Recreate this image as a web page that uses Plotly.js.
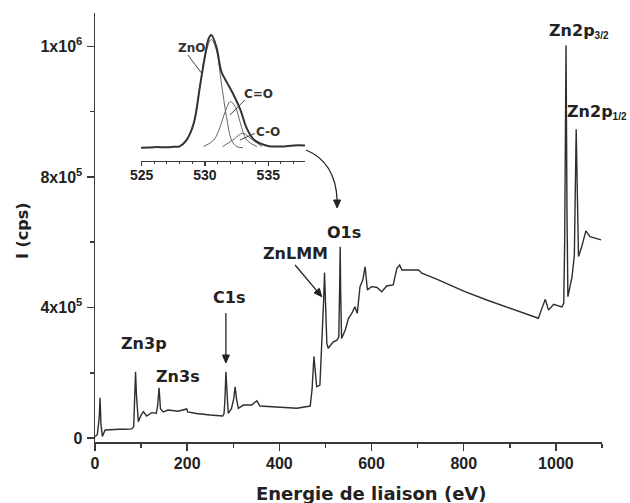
<!DOCTYPE html>
<html>
<head>
<meta charset="utf-8">
<script src="https://cdn.plot.ly/plotly-3.0.1.min.js"></script>
<style>html,body{margin:0;padding:0;background:#fff;}#chart{width:630px;height:503px;}</style>
</head>
<body>
<div id="chart"></div>
<script>
// Survey spectrum: binding energy (eV) and intensity (cps)
const energy = [0, 5, 9, 11, 13, 16, 22, 35, 50, 52, 65, 80, 84, 86, 88, 90, 94, 100, 105, 112, 123, 133, 136, 139, 142, 148, 159, 180, 199, 201, 220, 250, 268, 277, 280, 282, 284, 286, 289, 296, 301, 304, 307, 311, 322, 340, 351, 358, 394, 438, 467, 471, 475, 478, 481, 488, 492, 496, 498, 500, 503, 506, 517, 525, 529, 531, 532, 533, 535, 543, 550, 557, 564, 569, 575, 581, 586, 591, 600, 611, 622, 633, 647, 655, 661, 666, 677, 691, 702, 709, 740, 778, 800, 850, 900, 923, 962, 969, 977, 984, 995, 1013, 1017, 1019, 1022, 1024, 1026, 1035, 1040, 1044, 1047, 1049, 1056, 1065, 1074, 1085, 1098];
const intensity = [4000, 10000, 60000, 123000, 40000, 5000, 24500, 26000, 29000, 27000, 27000, 28000, 35000, 110000, 203000, 130000, 50000, 70000, 80600, 67400, 77600, 75700, 100000, 154000, 90000, 80000, 85800, 82000, 89000, 80000, 75000, 70500, 69000, 67400, 75000, 120000, 203000, 140000, 75700, 90000, 120000, 157000, 120000, 91000, 101000, 101000, 114000, 98000, 94000, 91000, 98000, 150000, 250000, 200000, 157000, 162000, 280000, 420000, 507000, 420000, 290000, 275000, 295000, 300000, 310000, 480000, 586000, 450000, 305000, 331000, 367000, 382000, 402000, 382000, 464000, 484000, 525000, 454000, 464000, 462000, 448000, 466000, 469000, 520000, 530000, 515000, 515000, 513000, 515000, 505000, 488000, 464000, 450000, 423000, 398000, 387000, 367000, 395000, 425000, 392000, 410000, 402000, 413000, 600000, 1204000, 700000, 433000, 494000, 560000, 946000, 650000, 556000, 586000, 635000, 617000, 612000, 607000];

// O1s inset (normalised intensity)
const insetEnvX = [524.95, 526, 527, 527.5, 528, 528.5, 529.1, 529.6, 530.0, 530.3, 530.5, 530.9, 531.3, 531.7, 532.2, 532.8, 533.3, 533.9, 534.9, 536, 537, 537.9];
const insetEnvY = [0, 0.005, 0.005, 0.008, 0.012, 0.06, 0.21, 0.54, 0.81, 0.97, 1.0, 0.896, 0.674, 0.586, 0.483, 0.335, 0.172, 0.068, 0.018, 0.01, 0.02, 0.02];
const znoX = [528, 528.5, 529.1, 529.6, 530.0, 530.5, 530.9, 531.3, 531.7, 532.1, 532.5, 533];
const znoY = [0.01, 0.06, 0.21, 0.54, 0.81, 0.96, 0.867, 0.571, 0.275, 0.068, 0.01, 0];
const coX = [529.9, 530.7, 531.2, 531.6, 532.0, 532.4, 532.8, 533.3, 534.1];
const coY = [0.01, 0.068, 0.186, 0.32, 0.408, 0.364, 0.217, 0.068, 0.01];
const c_oX = [531.4, 532.2, 533.0, 533.6, 534.5];
const c_oY = [0.01, 0.068, 0.128, 0.083, 0.01];

const yTickVals = [0, 400000, 800000, 1200000];
const yTickText = ['0', '4x10<sup>5</sup>', '8x10<sup>5</sup>', '1x10<sup>6</sup>'];
const xTickVals = [0, 200, 400, 600, 800, 1000];
const insetTickVals = [525, 530, 535];

const axisCol = '#3a3a3a';
const lineCol = '#2e2e2e';
const fam = 'Liberation Sans, Arial, sans-serif';
const famWide = 'DejaVu Sans, Verdana, sans-serif';
const bold16 = {family: fam, size: 16, color: '#222', weight: 'bold'};
const bold14 = {family: fam, size: 14, color: '#222', weight: 'bold'};
const lab16 = {family: famWide, size: 16, color: '#222', weight: 'bold'};
const lab12 = {family: famWide, size: 12, color: '#333', weight: 'bold'};
const titleFont = {family: famWide, size: 18, color: '#222', weight: 'bold'};
const yTitleFont = {family: famWide, size: 16, color: '#222', weight: 'bold'};
const subStyle = 'font-family:Liberation Sans, Arial, sans-serif;font-size:10px';

const traces = [
  {x: energy, y: intensity, type: 'scatter', mode: 'lines', line: {color: lineCol, width: 1.4}, xaxis: 'x', yaxis: 'y', hoverinfo: 'skip'},
  {x: znoX, y: znoY, type: 'scatter', mode: 'lines', line: {color: '#666', width: 1, shape: 'spline'}, xaxis: 'x2', yaxis: 'y2'},
  {x: coX, y: coY, type: 'scatter', mode: 'lines', line: {color: '#666', width: 1, shape: 'spline'}, xaxis: 'x2', yaxis: 'y2'},
  {x: c_oX, y: c_oY, type: 'scatter', mode: 'lines', line: {color: '#666', width: 1, shape: 'spline'}, xaxis: 'x2', yaxis: 'y2'},
  {x: insetEnvX, y: insetEnvY, type: 'scatter', mode: 'lines', line: {color: '#333', width: 2, shape: 'spline'}, xaxis: 'x2', yaxis: 'y2'}
];

function ann(text, x, y, font, xanchor) {
  return {text: text, x: x, y: y, xref: 'x', yref: 'y', showarrow: false, font: font, xanchor: xanchor || 'center'};
}

const annotations = [
  ann('Zn3p', 106, 291000, lab16),
  ann('Zn3s', 180, 190000, lab16),
  ann('C1s', 291, 432000, lab16),
  ann('ZnLMM', 436, 567000, lab16),
  ann('O1s', 540, 631000, lab16),
  ann('Zn2p<sub><span style="' + subStyle + '">3/2</span></sub>', 981, 1247000, lab16, 'left'),
  {text: 'Zn2p<sub><span style="' + subStyle + '">1/2</span></sub>', x: 1.0533, y: 999000, xref: 'paper', yref: 'y', showarrow: false, font: lab16, xanchor: 'right'},
  // inset labels
  {text: 'ZnO', x: 528.9, y: 0.885, xref: 'x2', yref: 'y2', showarrow: false, font: lab12},
  {text: 'C=O', x: 534.25, y: 0.476, xref: 'x2', yref: 'y2', showarrow: false, font: lab12},
  {text: 'C-O', x: 534.97, y: 0.139, xref: 'x2', yref: 'y2', showarrow: false, font: lab12},
  // axis titles
  {text: 'Energie de liaison (eV)', x: 0.546, y: -0.119, xref: 'paper', yref: 'paper', showarrow: false, xanchor: 'center', yanchor: 'middle', font: titleFont},
  {text: 'I (cps)', x: -0.144, y: 0.494, xref: 'paper', yref: 'paper', showarrow: false, textangle: -90, xanchor: 'center', yanchor: 'middle', font: yTitleFont}
];

const arrowLine = {color: '#222', width: 1.3};
const shapes = [
  // inset leader lines
  {type: 'line', xref: 'x2', yref: 'y2', x0: 528.65, y0: 0.823, x1: 529.74, y1: 0.660, line: {color: '#444', width: 1}},
  {type: 'line', xref: 'x2', yref: 'y2', x0: 533.15, y0: 0.423, x1: 531.97, y1: 0.29, line: {color: '#444', width: 1}},
  {type: 'line', xref: 'x2', yref: 'y2', x0: 533.94, y0: 0.128, x1: 532.76, y1: 0.068, line: {color: '#444', width: 1}},
  // curved arrow from inset to O1s
  {type: 'path', xref: 'x', yref: 'y', path: 'M 458,882700 Q 522,845000 525.3,729500', line: arrowLine},
  {type: 'path', xref: 'x', yref: 'y', path: 'M 517.7,729500 L 525.3,705000 L 532.9,729500 Z', fillcolor: '#222', line: {color: '#222', width: 1}},
  // C1s arrow
  {type: 'line', xref: 'x', yref: 'y', x0: 284, y0: 383000, x1: 284, y1: 254000, line: arrowLine},
  {type: 'path', xref: 'x', yref: 'y', path: 'M 276.4,254400 L 284,229900 L 291.6,254400 Z', fillcolor: '#222', line: {color: '#222', width: 1}},
  // ZnLMM arrow
  {type: 'line', xref: 'x', yref: 'y', x0: 434.1, y0: 530200, x1: 480.9, y1: 451900, line: arrowLine},
  {type: 'path', xref: 'x', yref: 'y', path: 'M 475.1,444900 L 492.0,433100 L 486.7,458800 Z', fillcolor: '#222', line: {color: '#222', width: 1}}
];

const layout = {
  width: 630, height: 503,
  margin: {l: 95, r: 28, t: 13, b: 61, pad: 0},
  paper_bgcolor: '#fff', plot_bgcolor: 'rgba(0,0,0,0)',
  showlegend: false,
  xaxis: {
    domain: [0, 1], range: [0, 1100], tickvals: xTickVals, ticks: 'outside', ticklen: 7, tickwidth: 1.5, tickcolor: axisCol,
    showline: true, linecolor: axisCol, linewidth: 1.5, showgrid: false, zeroline: false,
    tickfont: bold16, ticklabelstandoff: -1,
    minor: {dtick: 100, tick0: 0, ticks: 'outside', ticklen: 4, tickwidth: 1.5, tickcolor: axisCol, showgrid: false}
  },
  yaxis: {
    domain: [0, 1], range: [-12260, 1302600], tickvals: yTickVals, ticktext: yTickText, ticks: 'outside', ticklen: 7, tickwidth: 1.5, tickcolor: axisCol,
    showline: true, linecolor: axisCol, linewidth: 1.5, showgrid: false, zeroline: false,
    tickfont: bold16, ticklabelstandoff: 1,
    minor: {dtick: 200000, tick0: 0, ticks: 'outside', ticklen: 4, tickwidth: 1.5, tickcolor: axisCol, showgrid: false}
  },
  xaxis2: {
    domain: [0.0907, 0.4142], range: [524.95, 537.9], anchor: 'y2', tickvals: insetTickVals, ticks: 'outside', ticklen: 4, tickwidth: 1.2, tickcolor: axisCol,
    showline: true, linecolor: axisCol, linewidth: 1.2, showgrid: false, zeroline: false,
    tickfont: bold14, ticklabelstandoff: -3,
    minor: {dtick: 1, tick0: 525, ticks: 'outside', ticklen: 2, tickwidth: 1, tickcolor: axisCol, showgrid: false}
  },
  yaxis2: {
    domain: [0.655, 0.9604], range: [-0.118, 1.044], anchor: 'x2', visible: false, showgrid: false, zeroline: false
  },
  annotations: annotations,
  shapes: shapes
};

Plotly.newPlot('chart', traces, layout, {staticPlot: true, displayModeBar: false});
</script>
</body>
</html>
